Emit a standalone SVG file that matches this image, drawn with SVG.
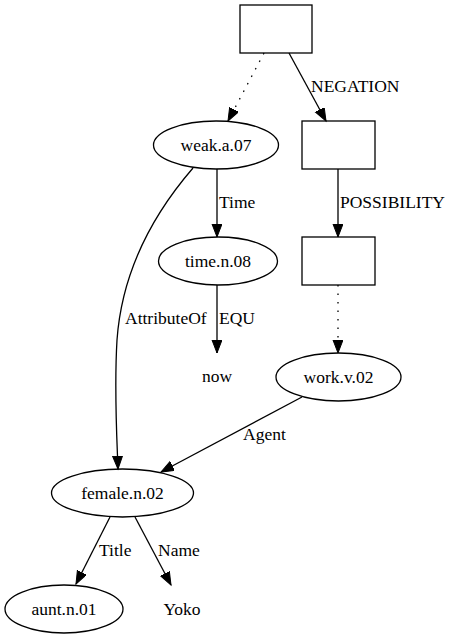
<svg xmlns="http://www.w3.org/2000/svg" width="454" height="639" viewBox="0 0 454 639">
<style>
.n{fill:none;stroke:#000;stroke-width:1.3}
.e{fill:none;stroke:#000;stroke-width:1.3}
.d{stroke-dasharray:1.5,7}
text{font-family:"Liberation Serif","Times New Roman",serif;font-size:17.5px;fill:#000}
.c{text-anchor:middle}
</style>
<defs>
<marker id="ah" markerUnits="userSpaceOnUse" markerWidth="15" markerHeight="12" refX="13" refY="5" orient="auto">
<path d="M0,0 L13,5 L0,10 z" fill="#000" stroke="#000" stroke-width="1"/>
</marker>
</defs>
<rect width="454" height="639" fill="#fff"/>
<g id="edges">
<path class="e d" d="M264,53 L228,121" marker-end="url(#ah)"/>
<path class="e" d="M289,53 L326,121" marker-end="url(#ah)"/>
<text x="311" y="92">NEGATION</text>
<path class="e" d="M217,169 L217,237" marker-end="url(#ah)"/>
<text x="219" y="208">Time</text>
<path class="e" d="M338,169 L338,237" marker-end="url(#ah)"/>
<text x="340" y="208">POSSIBILITY</text>
<path class="e d" d="M338,285 L338,353" marker-end="url(#ah)"/>
<path class="e" d="M217,285 L217,353" marker-end="url(#ah)"/>
<text x="219" y="324">EQU</text>
<path class="e" d="M193,168 C155,212 122,270 117,340 C114,390 117,440 118,469" marker-end="url(#ah)"/>
<text x="125" y="324">AttributeOf</text>
<path class="e" d="M302,397 L161,472" marker-end="url(#ah)"/>
<text x="243" y="440">Agent</text>
<path class="e" d="M110,517 L76,584" marker-end="url(#ah)"/>
<text x="99" y="556">Title</text>
<path class="e" d="M135,517 L171,585" marker-end="url(#ah)"/>
<text x="158" y="556">Name</text>
</g>
<g id="box1"><rect class="n" x="240" y="5" width="72" height="48"/></g>
<g id="box2"><rect class="n" x="302" y="121" width="73" height="48"/></g>
<g id="box3"><rect class="n" x="302" y="237" width="73" height="48"/></g>
<g id="weak"><ellipse class="n" cx="216" cy="145" rx="62.5" ry="24"/><text class="c" x="216" y="151">weak.a.07</text></g>
<g id="time"><ellipse class="n" cx="218" cy="261" rx="59.5" ry="24"/><text class="c" x="218" y="267">time.n.08</text></g>
<g id="now"><text class="c" x="217" y="382">now</text></g>
<g id="work"><ellipse class="n" cx="338.5" cy="377" rx="62.5" ry="24"/><text class="c" x="338.5" y="383">work.v.02</text></g>
<g id="female"><ellipse class="n" cx="122.5" cy="493" rx="71" ry="24"/><text class="c" x="122.5" y="499">female.n.02</text></g>
<g id="aunt"><ellipse class="n" cx="64" cy="609" rx="59" ry="24"/><text class="c" x="64" y="615">aunt.n.01</text></g>
<g id="yoko"><text class="c" x="182" y="615">Yoko</text></g>
</svg>
